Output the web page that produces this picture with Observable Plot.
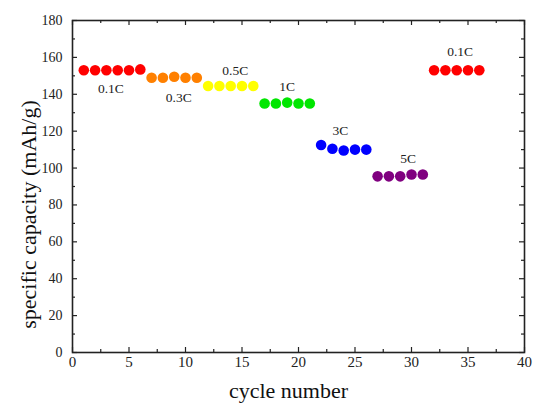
<!DOCTYPE html>
<html><head><meta charset="utf-8">
<script src="https://cdn.jsdelivr.net/npm/d3@7"></script>
<script src="https://cdn.jsdelivr.net/npm/@observablehq/plot@0.6"></script>
<style>body{margin:0;background:#fff}</style>
</head><body><div id="chart"></div>
<script>
const cycles = [1,2,3,4,5,6,7,8,9,10,11,12,13,14,15,16,17,18,19,20,21,22,23,24,25,26,27,28,29,30,31,32,33,34,35,36];
const capacity = [153,153,153,153,153,153.5, 149,149,149.5,149,149, 144.5,144.5,144.5,144.5,144.5, 135,135,135.5,135,135, 112.5,110.5,109.5,110,110, 95.5,95.5,95.5,96.5,96.5, 153,153,153,153,153];
const rate = ["0.1C a","0.1C a","0.1C a","0.1C a","0.1C a","0.1C a","0.3C","0.3C","0.3C","0.3C","0.3C","0.5C","0.5C","0.5C","0.5C","0.5C","1C","1C","1C","1C","1C","3C","3C","3C","3C","3C","5C","5C","5C","5C","5C","0.1C b","0.1C b","0.1C b","0.1C b","0.1C b"];
const rateGroups = ["0.1C a","0.3C","0.5C","1C","3C","5C","0.1C b"];
const rateColors = ["#ff0000","#ff8000","#ffff00","#00e600","#0000ff","#800080","#ff0000"];
const labelText = ["0.1C","0.3C","0.5C","1C","3C","5C","0.1C"];
const labelX = [3.4,9.4,14.4,19,23.7,29.7,34.3];
const labelY = [143,138,153,144,120,105,163];
const xTicks = [0,5,10,15,20,25,30,35,40];
const xMinor = [2.5,7.5,12.5,17.5,22.5,27.5,32.5,37.5];
const yTicks = [0,20,40,60,80,100,120,140,160,180];
const yMinor = [10,30,50,70,90,110,130,150,170];

const data = cycles.map((c,i)=>({cycle:c, cap:capacity[i], rate:rate[i]}));
const labels = labelText.map((t,i)=>({t, x:labelX[i], y:labelY[i]}));

const W = 536, H = 403, mt = 20, mb = 51, ml = 72, mr = 12;
const ph = H - mt - mb, pw = W - ml - mr;
const font = "'Liberation Serif', 'Times New Roman', serif";

const chart = Plot.plot({
  width: W, height: H,
  marginTop: mt, marginBottom: mb, marginLeft: ml, marginRight: mr,
  style: {fontFamily: font, background: "#fff", color: "#222"},
  x: {domain: [0,40]},
  y: {domain: [0,180]},
  color: {domain: rateGroups, range: rateColors},
  marks: [
    Plot.tickX(xTicks, {x: d=>d, insetTop: ph-5, stroke: "#222", strokeWidth: 1.2}),
    Plot.tickX(xTicks, {x: d=>d, insetBottom: ph-5, stroke: "#222", strokeWidth: 1.2}),
    Plot.tickX(xMinor, {x: d=>d, insetTop: ph-3, stroke: "#222", strokeWidth: 1.2}),
    Plot.tickX(xMinor, {x: d=>d, insetBottom: ph-3, stroke: "#222", strokeWidth: 1.2}),
    Plot.tickY(yTicks, {y: d=>d, insetRight: pw-5, stroke: "#222", strokeWidth: 1.2}),
    Plot.tickY(yTicks, {y: d=>d, insetLeft: pw-5, stroke: "#222", strokeWidth: 1.2}),
    Plot.tickY(yMinor, {y: d=>d, insetRight: pw-3, stroke: "#222", strokeWidth: 1.2}),
    Plot.tickY(yMinor, {y: d=>d, insetLeft: pw-3, stroke: "#222", strokeWidth: 1.2}),
    Plot.frame({stroke: "#222", strokeWidth: 1.6}),
    Plot.axisX({ticks: xTicks, tickSize: 0, tickPadding: 4, fontSize: 15, label: null, fill: "#222"}),
    Plot.axisY({ticks: yTicks, tickSize: 0, tickPadding: 10, fontSize: 14, label: null, fill: "#222"}),
    Plot.dot(data, {x: "cycle", y: "cap", fill: "rate", r: 5.3, stroke: null}),
    Plot.text(labels, {x: "x", y: "y", text: "t", fontSize: 13.5, fill: "#222"}),
    Plot.text(["cycle number"], {frameAnchor: "bottom", lineAnchor: "middle", textAnchor: "middle", dy: 38, dx: -10, fontSize: 22, fill: "#111"}),
    Plot.text(["specific capacity (mAh/g)"], {frameAnchor: "left", textAnchor: "middle", lineAnchor: "middle", rotate: -90, dx: -44, dy: 28, fontSize: 22, fill: "#111"})
  ]
});
document.getElementById("chart").appendChild(chart);
</script>
</body></html>
